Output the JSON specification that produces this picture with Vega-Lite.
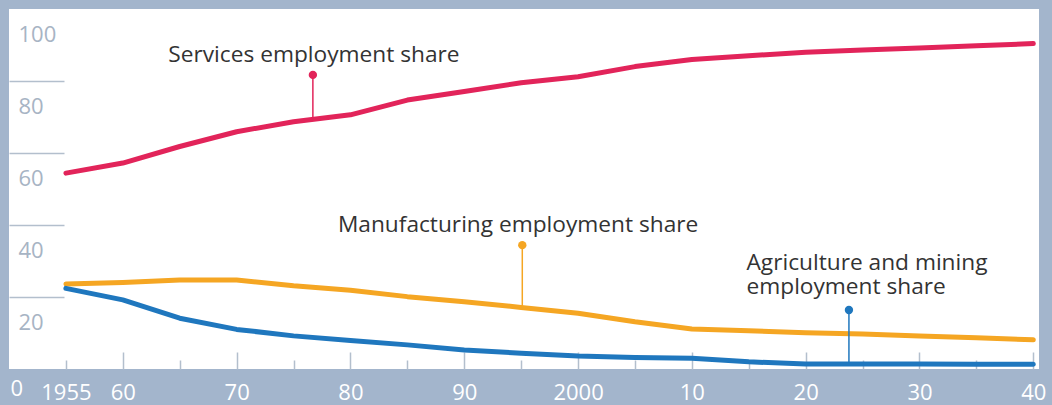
{
  "$schema": "https://vega.github.io/schema/vega-lite/v6.json",
  "width": 1030,
  "height": 360,
  "autosize": "none",
  "padding": {"left": 9, "top": 9, "right": 13, "bottom": 36},
  "background": "#a3b5cc",
  "config": {
    "view": {"fill": "white", "stroke": null},
    "font": "Open Sans"
  },
  "datasets": {
    "shares": [
      {"year": 1955, "series": "Services", "value": 54.4},
      {"year": 1960, "series": "Services", "value": 57.2},
      {"year": 1965, "series": "Services", "value": 61.8},
      {"year": 1970, "series": "Services", "value": 65.9},
      {"year": 1975, "series": "Services", "value": 68.7},
      {"year": 1980, "series": "Services", "value": 70.6},
      {"year": 1985, "series": "Services", "value": 74.7},
      {"year": 1990, "series": "Services", "value": 77.1},
      {"year": 1995, "series": "Services", "value": 79.5},
      {"year": 2000, "series": "Services", "value": 81.2},
      {"year": 2005, "series": "Services", "value": 84.0},
      {"year": 2010, "series": "Services", "value": 86.0},
      {"year": 2015, "series": "Services", "value": 87.0},
      {"year": 2020, "series": "Services", "value": 88.0},
      {"year": 2025, "series": "Services", "value": 88.6},
      {"year": 2030, "series": "Services", "value": 89.2},
      {"year": 2035, "series": "Services", "value": 89.8},
      {"year": 2040, "series": "Services", "value": 90.4},
      {"year": 1955, "series": "Manufacturing", "value": 23.6},
      {"year": 1960, "series": "Manufacturing", "value": 24.0},
      {"year": 1965, "series": "Manufacturing", "value": 24.7},
      {"year": 1970, "series": "Manufacturing", "value": 24.7},
      {"year": 1975, "series": "Manufacturing", "value": 23.1},
      {"year": 1980, "series": "Manufacturing", "value": 21.9},
      {"year": 1985, "series": "Manufacturing", "value": 20.1},
      {"year": 1990, "series": "Manufacturing", "value": 18.7},
      {"year": 1995, "series": "Manufacturing", "value": 17.1},
      {"year": 2000, "series": "Manufacturing", "value": 15.5},
      {"year": 2005, "series": "Manufacturing", "value": 13.1},
      {"year": 2010, "series": "Manufacturing", "value": 11.1},
      {"year": 2015, "series": "Manufacturing", "value": 10.6},
      {"year": 2020, "series": "Manufacturing", "value": 10.1},
      {"year": 2025, "series": "Manufacturing", "value": 9.7},
      {"year": 2030, "series": "Manufacturing", "value": 9.2},
      {"year": 2035, "series": "Manufacturing", "value": 8.7},
      {"year": 2040, "series": "Manufacturing", "value": 8.1},
      {"year": 1955, "series": "Agriculture", "value": 22.4},
      {"year": 1960, "series": "Agriculture", "value": 19.2},
      {"year": 1965, "series": "Agriculture", "value": 14.1},
      {"year": 1970, "series": "Agriculture", "value": 11.0},
      {"year": 1975, "series": "Agriculture", "value": 9.2},
      {"year": 1980, "series": "Agriculture", "value": 7.9},
      {"year": 1985, "series": "Agriculture", "value": 6.7},
      {"year": 1990, "series": "Agriculture", "value": 5.3},
      {"year": 1995, "series": "Agriculture", "value": 4.4},
      {"year": 2000, "series": "Agriculture", "value": 3.6},
      {"year": 2005, "series": "Agriculture", "value": 3.2},
      {"year": 2010, "series": "Agriculture", "value": 3.0},
      {"year": 2015, "series": "Agriculture", "value": 2.0},
      {"year": 2020, "series": "Agriculture", "value": 1.4},
      {"year": 2025, "series": "Agriculture", "value": 1.4},
      {"year": 2030, "series": "Agriculture", "value": 1.4},
      {"year": 2035, "series": "Agriculture", "value": 1.35},
      {"year": 2040, "series": "Agriculture", "value": 1.3}
    ],
    "notes": [
      {"series": "Services", "year": 1976.7, "top": 81.7, "bottom": 69.5, "textYear": 1964.0, "textValue": 87.2, "label": "Services employment share"},
      {"series": "Manufacturing", "year": 1995.1, "top": 34.4, "bottom": 17.2, "textYear": 1978.9, "textValue": 40.0, "label": "Manufacturing employment share"},
      {"series": "Agriculture", "year": 2023.8, "top": 16.4, "bottom": 1.4, "textYear": 2014.8, "textValue": 29.4, "label": ["Agriculture and mining", "employment share"]}
    ]
  },
  "resolve": {"axis": {"x": "independent", "y": "independent"}},
  "layer": [
    {
      "data": {"name": "shares"},
      "mark": {"type": "line", "strokeWidth": 5, "strokeCap": "round", "strokeJoin": "round"},
      "encoding": {
        "x": {
          "field": "year",
          "type": "quantitative",
          "scale": {"domain": [1950, 2040.5], "nice": false, "zero": false},
          "axis": {
            "orient": "bottom",
            "title": null,
            "domain": false,
            "ticks": false,
            "grid": false,
            "values": [1955, 1960, 1970, 1980, 1990, 2000, 2010, 2020, 2030, 2040],
            "format": "d",
            "labelExpr": "datum.value == 1955 || datum.value == 2000 ? toString(datum.value) : substring(toString(datum.value), 2)",
            "labelColor": "white",
            "labelFontSize": 22,
            "labelFont": "Open Sans",
            "labelBaseline": "middle",
            "labelPadding": 23,
            "labelOverlap": false,
            "labelFlush": false
          }
        },
        "y": {
          "field": "value",
          "type": "quantitative",
          "scale": {"domain": [0, 100], "nice": false},
          "axis": {
            "orient": "left",
            "title": null,
            "domain": false,
            "ticks": false,
            "grid": false,
            "values": [0, 20, 40, 60, 80, 100],
            "labelAlign": "left",
            "labelBaseline": "middle",
            "labelFontSize": 22,
            "labelFont": "Open Sans",
            "labelColor": {"condition": {"test": "datum.value === 0", "value": "white"}, "value": "#a7b4c4"},
            "labelPadding": {"condition": {"test": "datum.value === 0", "value": -1}, "value": -9},
            "labelOffset": {"condition": {"test": "datum.value === 0", "value": 19}, "value": 25},
            "labelOverlap": false,
            "labelFlush": false
          }
        },
        "color": {
          "field": "series",
          "type": "nominal",
          "scale": {"domain": ["Services", "Manufacturing", "Agriculture"], "range": ["#e2245a", "#f5a623", "#1f77be"]},
          "legend": null
        }
      }
    },
    {
      "data": {"name": "notes"},
      "mark": {"type": "rule", "strokeWidth": 1.5},
      "encoding": {
        "x": {
          "field": "year",
          "type": "quantitative",
          "axis": {
            "orient": "bottom",
            "title": null,
            "domain": false,
            "labels": false,
            "grid": false,
            "values": [1960, 1970, 1980, 1990, 2000, 2010, 2020, 2030, 2040],
            "tickSize": -17,
            "tickWidth": 1.5,
            "tickColor": "#b3bfcd"
          }
        },
        "y": {
          "field": "top",
          "type": "quantitative",
          "axis": {
            "orient": "left",
            "title": null,
            "domain": false,
            "labels": false,
            "grid": false,
            "values": [20, 40, 60, 80],
            "tickSize": -55,
            "tickWidth": 1.5,
            "tickColor": "#b3bfcd"
          }
        },
        "y2": {"field": "bottom"},
        "color": {"field": "series", "type": "nominal", "legend": null}
      }
    },
    {
      "data": {"name": "notes"},
      "mark": {"type": "point", "filled": true, "opacity": 1, "size": 70},
      "encoding": {
        "x": {
          "field": "year",
          "type": "quantitative",
          "axis": {
            "orient": "bottom",
            "title": null,
            "domain": false,
            "labels": false,
            "grid": false,
            "values": [1955, 1965, 1975, 1985, 1995, 2005, 2015, 2025, 2035],
            "tickSize": -9,
            "tickWidth": 1.5,
            "tickColor": "#b3bfcd"
          }
        },
        "y": {"field": "top", "type": "quantitative", "axis": null},
        "color": {"field": "series", "type": "nominal", "legend": null}
      }
    },
    {
      "data": {"name": "notes"},
      "mark": {"type": "text", "align": "left", "baseline": "middle", "fontSize": 22.7, "font": "Open Sans", "color": "#333333", "lineHeight": 24},
      "encoding": {
        "x": {"field": "textYear", "type": "quantitative", "axis": null},
        "y": {"field": "textValue", "type": "quantitative", "axis": null},
        "text": {"field": "label"}
      }
    }
  ]
}
